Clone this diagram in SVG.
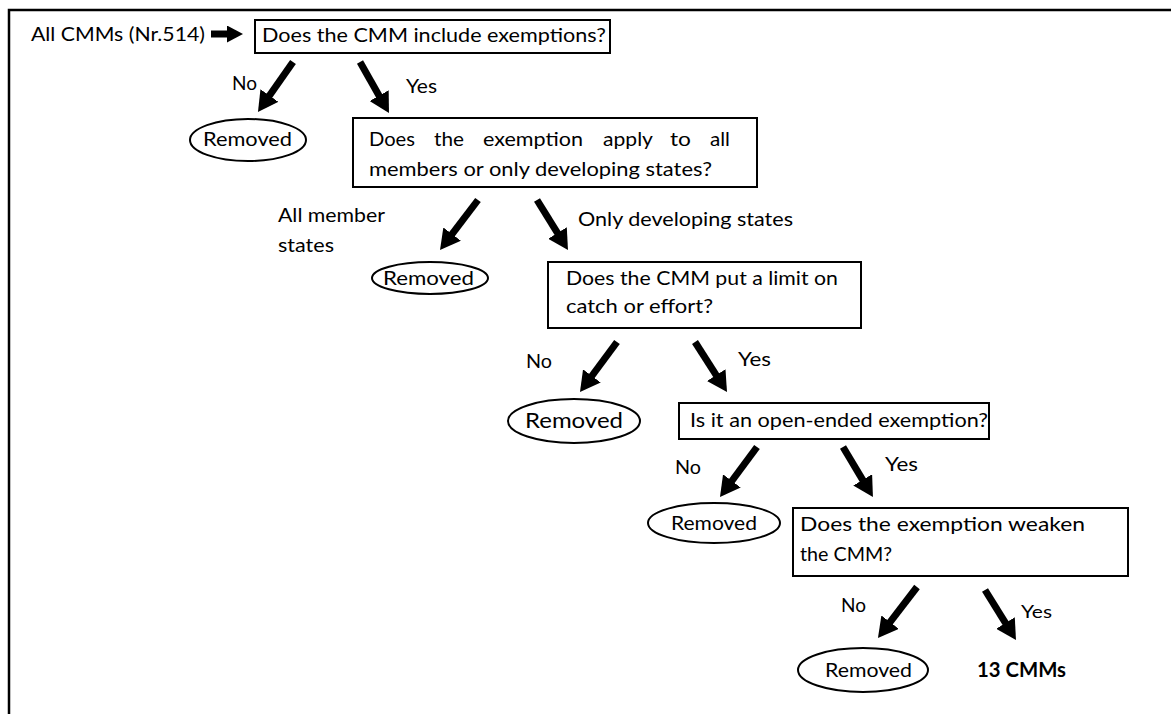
<svg xmlns="http://www.w3.org/2000/svg" width="1171" height="714" viewBox="0 0 1171 714">
<style>
text{font-family:Lato,"Open Sans","Liberation Sans",sans-serif;font-size:20px;fill:#000}
.b{fill:#fff;stroke:#000;stroke-width:2}
.e{fill:#fff;stroke:#000;stroke-width:2}
.a{stroke:#000;stroke-width:7;fill:none;marker-end:url(#h)}
.bold{font-weight:bold}
</style>
<defs>
<marker id="h" markerUnits="userSpaceOnUse" markerWidth="20" markerHeight="22" viewBox="0 0 20 22" refX="2" refY="11" orient="auto"><path d="M0,0 L20,11 L0,22 z" fill="#000"/></marker>
<marker id="hs" markerUnits="userSpaceOnUse" markerWidth="16" markerHeight="17" viewBox="0 0 16 17" refX="1" refY="8.5" orient="auto"><path d="M0,0 L16,8.5 L0,17 z" fill="#000"/></marker>
</defs>
<rect width="1171" height="714" fill="#fff"/>
<path d="M9,714 V10 H1171" fill="none" stroke="#000" stroke-width="2.5"/>

<g id="start">
<text x="31" y="41" textLength="174" lengthAdjust="spacingAndGlyphs">All CMMs (Nr.514)</text>
</g>
<g id="q1">
<rect class="b" x="255" y="20" width="355" height="33"/>
<text x="262" y="42" textLength="344" lengthAdjust="spacingAndGlyphs">Does the CMM include exemptions?</text>
</g>
<g id="r1">
<ellipse class="e" cx="248" cy="140" rx="58" ry="21"/>
<text x="203" y="146" textLength="89" lengthAdjust="spacingAndGlyphs">Removed</text>
</g>
<g id="q2">
<rect class="b" x="353" y="118" width="404" height="69"/>
<text x="369" y="146" textLength="46" lengthAdjust="spacingAndGlyphs">Does</text>
<text x="434" y="146" textLength="30" lengthAdjust="spacingAndGlyphs">the</text>
<text x="483" y="146" textLength="100" lengthAdjust="spacingAndGlyphs">exemption</text>
<text x="603" y="146" textLength="50" lengthAdjust="spacingAndGlyphs">apply</text>
<text x="670" y="146" textLength="21" lengthAdjust="spacingAndGlyphs">to</text>
<text x="710" y="146" textLength="20" lengthAdjust="spacingAndGlyphs">all</text>
<text x="369" y="176" textLength="343" lengthAdjust="spacingAndGlyphs">members or only developing states?</text>
</g>
<g id="r2">
<ellipse class="e" cx="430" cy="278" rx="58" ry="16"/>
<text x="383" y="285" textLength="91" lengthAdjust="spacingAndGlyphs">Removed</text>
</g>
<g id="q3">
<rect class="b" x="548" y="262" width="313" height="66"/>
<text x="566" y="285" textLength="272" lengthAdjust="spacingAndGlyphs">Does the CMM put a limit on</text>
<text x="566" y="313" textLength="147" lengthAdjust="spacingAndGlyphs">catch or effort?</text>
</g>
<g id="r3">
<ellipse class="e" cx="574" cy="421" rx="66" ry="22"/>
<text x="525" y="428" style="font-size:22px" textLength="98" lengthAdjust="spacingAndGlyphs">Removed</text>
</g>
<g id="q4">
<rect class="b" x="679" y="403" width="310" height="36"/>
<text x="690" y="427" textLength="298" lengthAdjust="spacingAndGlyphs">Is it an open-ended exemption?</text>
</g>
<g id="r4">
<ellipse class="e" cx="714" cy="523" rx="66" ry="20"/>
<text x="671" y="530" textLength="86" lengthAdjust="spacingAndGlyphs">Removed</text>
</g>
<g id="q5">
<rect class="b" x="793" y="508" width="335" height="68"/>
<text x="800" y="531" textLength="285" lengthAdjust="spacingAndGlyphs">Does the exemption weaken</text>
<text x="800" y="561" textLength="92" lengthAdjust="spacingAndGlyphs">the CMM?</text>
</g>
<g id="r5">
<ellipse class="e" cx="863" cy="670" rx="65" ry="22"/>
<text x="825" y="677" textLength="87" lengthAdjust="spacingAndGlyphs">Removed</text>
</g>
<g id="result">
<text class="bold" x="977" y="677" textLength="89" lengthAdjust="spacingAndGlyphs">13 CMMs</text>
</g>

<g id="connectors">
<line x1="211" y1="34" x2="228" y2="34" stroke="#000" stroke-width="7" marker-end="url(#hs)"/>
<line class="a" x1="293" y1="62" x2="268.3" y2="97.2"/>
<line class="a" x1="360" y1="62" x2="380.1" y2="97.4"/>
<line class="a" x1="478" y1="200" x2="450.9" y2="235.7"/>
<line class="a" x1="537" y1="200" x2="558.5" y2="234.7"/>
<line class="a" x1="617" y1="342" x2="590.7" y2="377.5"/>
<line class="a" x1="695" y1="342" x2="717.3" y2="376.8"/>
<line class="a" x1="757" y1="447" x2="730.7" y2="482.5"/>
<line class="a" x1="843" y1="447" x2="863.7" y2="481.6"/>
<line class="a" x1="917" y1="587" x2="888.9" y2="623.7"/>
<line class="a" x1="985" y1="590" x2="1006.5" y2="624.7"/>
<text x="232" y="90" textLength="25" lengthAdjust="spacingAndGlyphs">No</text>
<text x="406" y="93" textLength="31" lengthAdjust="spacingAndGlyphs">Yes</text>
<text x="278" y="222" textLength="107" lengthAdjust="spacingAndGlyphs">All member</text>
<text x="278" y="252" textLength="56" lengthAdjust="spacingAndGlyphs">states</text>
<text x="578" y="226" textLength="215" lengthAdjust="spacingAndGlyphs">Only developing states</text>
<text x="526" y="368" textLength="26" lengthAdjust="spacingAndGlyphs">No</text>
<text x="738" y="366" textLength="33" lengthAdjust="spacingAndGlyphs">Yes</text>
<text x="675" y="474" textLength="26" lengthAdjust="spacingAndGlyphs">No</text>
<text x="885" y="471" textLength="33" lengthAdjust="spacingAndGlyphs">Yes</text>
<text x="841" y="612" textLength="25" lengthAdjust="spacingAndGlyphs">No</text>
<text x="1021" y="618" style="font-size:18px" textLength="31" lengthAdjust="spacingAndGlyphs">Yes</text>
</g>
</svg>
